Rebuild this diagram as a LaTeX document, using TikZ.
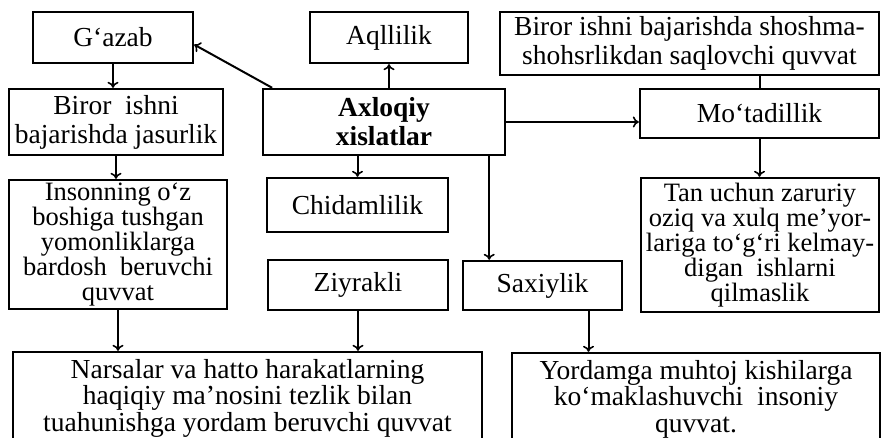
\documentclass[tikz,border=0pt]{standalone}
\usepackage{fontspec}
\setmainfont{Liberation Serif}
\usepackage{tikz}
\usetikzlibrary{arrows.meta,positioning}
\tikzset{
  box/.style={draw, line width=2.4pt, align=center, inner sep=0pt, font=\fontsize{27.5}{29}\selectfont},
  tight/.style={font=\fontsize{26.5}{25}\selectfont},
  link/.style={line width=2pt, -{To[length=6pt,width=11pt,line width=1.6pt]}}
}

\begin{document}
\begin{tikzpicture}[x=1pt,y=-1pt]
      \useasboundingbox (0,0) rectangle (881,438);

      \node[box, minimum width=160pt, minimum height=51pt] (gazab) at (113,37.5) {G‘azab};
      \node[box, minimum width=214pt, minimum height=66pt] (jasur) at (116,122) {Biror\ \ ishni\\bajarishda jasurlik};
      \node[box, tight, minimum width=218pt, minimum height=129pt] (bardosh) at (118,244.5) {Insonning o‘z\\boshiga tushgan\\yomonliklarga\\bardosh\ \ beruvchi\\quvvat};

      \node[box, minimum width=158pt, minimum height=51pt] (aql) at (389,37.5) {Aqllilik};
      \node[box, minimum width=242pt, minimum height=66pt, font=\fontsize{27.5}{29}\selectfont\bfseries] (axloq) at (384,122) {Axloqiy\\xislatlar};
      \node[box, minimum width=181pt, minimum height=54pt] (chidam) at (357.5,205) {Chidamlilik};
      \node[box, minimum width=180pt, minimum height=50pt] (ziyrak) at (358,285) {Ziyrakli};
      \node[box, minimum width=159pt, minimum height=49pt] (saxiy) at (542.5,285.5) {Saxiylik};

      \node[box, minimum width=379pt, minimum height=63pt] (shosh) at (689.5,43.5) {Biror ishni bajarishda shoshma-\\shohsrlikdan saqlovchi quvvat};
      \node[box, minimum width=239pt, minimum height=49pt] (motadil) at (759.5,113.5) {Mo‘tadillik};
      \node[box, tight, minimum width=238pt, minimum height=134pt] (tan) at (760,245) {Tan uchun zaruriy\\oziq va xulq me’yor-\\lariga to‘g‘ri kelmay-\\digan\ \ ishlarni\\qilmaslik};

      \node[box, minimum width=469pt, minimum height=92pt, font=\fontsize{27.5}{26.5}\selectfont] (narsa) at (247.5,398) {Narsalar va hatto harakatlarning\\haqiqiy ma’nosini tezlik bilan\\tuahunishga yordam beruvchi quvvat};
      \node[box, minimum width=368pt, minimum height=92pt, font=\fontsize{27.5}{26.5}\selectfont] (yordam) at (696,399) {Yordamga muhtoj kishilarga\\ko‘maklashuvchi\ \ insoniy\\quvvat.};

      \draw[link] (axloq.163) -- (gazab.-5);
      \draw[link] (axloq.north -| aql.south) -- (aql.south);
      \draw[link] (axloq.south -| chidam.north) -- (chidam.north);
      \draw[link] (axloq.east) -- (motadil.west |- axloq.east);
      \draw[link] ([xshift=-17pt]axloq.south east) -- ([xshift=-17pt]axloq.south east |- saxiy.north);
      \draw[line width=2pt] (shosh.south -| motadil.north) -- (motadil.north);
      \draw[link] (motadil.south) -- (motadil.south |- tan.north);
      \draw[link] (gazab.south) -- (gazab.south |- jasur.north);
      \draw[link] (jasur.south) -- (jasur.south |- bardosh.north);
      \draw[link] (bardosh.south) -- (bardosh.south |- narsa.north);
      \draw[link] (ziyrak.south) -- (ziyrak.south |- narsa.north);
      \draw[link] ([xshift=46pt]saxiy.south) -- ([xshift=46pt]saxiy.south |- yordam.north);
    \end{tikzpicture}
\end{document}
